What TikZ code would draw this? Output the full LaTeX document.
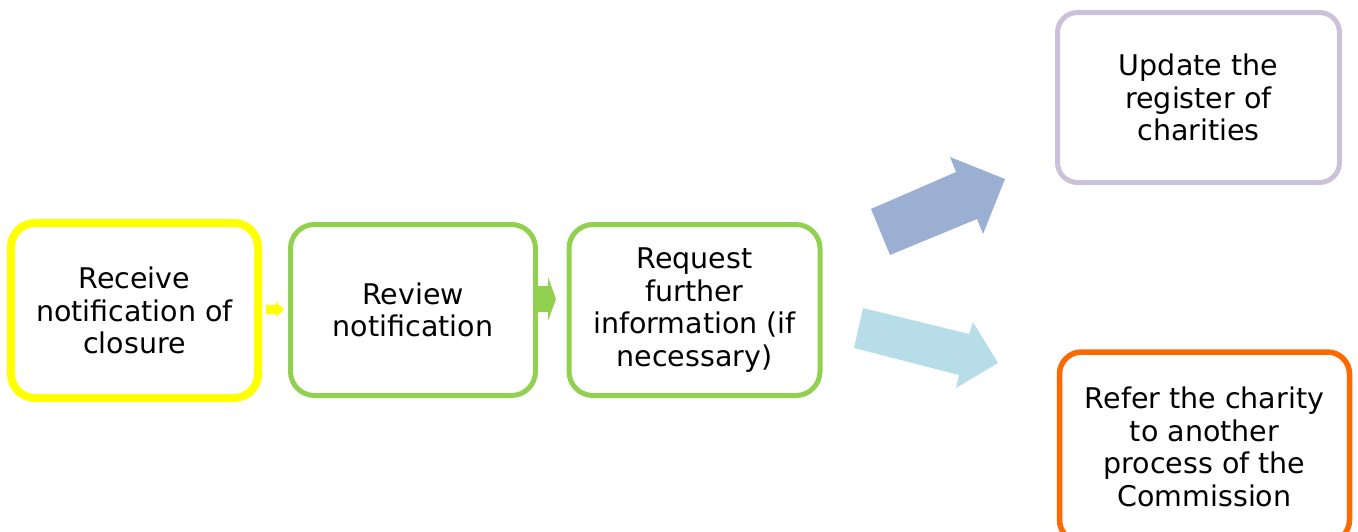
\documentclass[tikz,border=0pt]{standalone}
\usepackage{fontspec}
\setmainfont{DejaVu Sans}
\definecolor{cyellow}{HTML}{FFFF00}
\definecolor{cgreen}{HTML}{92D050}
\definecolor{clav}{HTML}{CCC1DA}
\definecolor{corange}{HTML}{FF6A00}
\definecolor{cblue}{HTML}{9AAFD1}
\definecolor{clight}{HTML}{B7DEE8}
\tikzset{
  box/.style={draw, fill=white, rounded corners=24pt, align=center, inner sep=0pt,
    font=\fontsize{28.5}{32.5}\selectfont, text=black},
  flowarrow/.style={draw=none}
}
\begin{document}
\begin{tikzpicture}[x=1pt,y=-1pt]
\useasboundingbox (0,0) rectangle (1358,531);
\node[box, draw=cyellow, line width=8pt, minimum width=247pt, minimum height=175pt] (b1) at (134.5,310.5) {Receive\\notification of\\closure};
\node[box, draw=cgreen, line width=5pt, minimum width=245pt, minimum height=171pt] (b2) at (413,310) {Review\\notification};
\node[box, draw=cgreen, line width=5pt, minimum width=251pt, minimum height=171pt] (b3) at (694.5,310) {Request\\further\\information (if\\necessary)};
\node[box, draw=clav, line width=5pt, minimum width=282pt, minimum height=170pt, rounded corners=20pt] (b4) at (1198.5,97.5) {Update the\\register of\\charities};
\node[box, draw=corange, line width=5.5pt, minimum width=290pt, minimum height=190pt, rounded corners=22pt] (b5) at (1204.5,447) {Refer the charity\\to another\\process of the\\Commission};
% small arrows between boxes
\fill[cyellow] (266,305) -- (276,305) -- (276,302) -- (284,309.5) -- (276,317) -- (276,314) -- (266,314) -- cycle;
\fill[cgreen] (538,286) -- (548,286) -- (548,277) -- (556,299) -- (548,321) -- (548,312) -- (538,312) -- cycle;
% large arrows
\fill[cblue] (871,209) -- (956,172) -- (950,157) -- (1005,179) -- (983,234) -- (977,219) -- (890,255) -- cycle;
\fill[clight] (863,308) -- (969,334) -- (973,322) -- (998,363) -- (956,388) -- (959,375) -- (854,348) -- cycle;
\end{tikzpicture}
\end{document}
